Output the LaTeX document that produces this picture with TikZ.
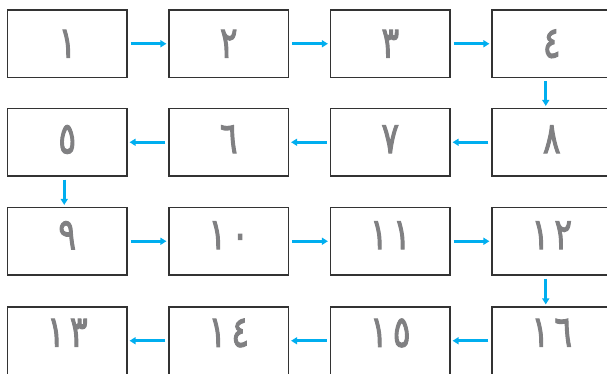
\documentclass[tikz,border=0pt]{standalone}
\usepackage{fontspec}
\newfontfamily\arabicfont[Script=Arabic, FakeStretch=0.75, FakeBold=2.2, LetterSpace=12]{DejaVu Sans}
\usetikzlibrary{arrows.meta}
\definecolor{flowblue}{RGB}{0,174,239}
\definecolor{numgray}{RGB}{128,128,130}
\tikzset{
  cell/.style={draw=black!80, line width=1.2pt, minimum width=119.5pt, minimum height=67.5pt,
    inner sep=0pt, text=numgray, font=\arabicfont\fontsize{44}{50}\selectfont},
  flow/.style={flowblue, line width=2.6pt, -{Triangle[length=6pt,width=7pt]},
    shorten <=3pt, shorten >=2pt}
}
\begin{document}
\begin{tikzpicture}[x=1pt,y=-1pt]
        \useasboundingbox (0,0) rectangle (607,373);
        % row 1
        \node[cell] (n1) at (67.25,43.75) {١};
        \node[cell] (n2) at (228.75,43.75) {٢};
        \node[cell] (n3) at (390.25,43.75) {٣};
        \node[cell] (n4) at (551.75,43.75) {٤};
        % row 2
        \node[cell, text depth=6pt] (n5) at (67.25,142.25) {٥};
        \node[cell, text depth=6pt] (n6) at (228.75,142.25) {٦};
        \node[cell, text depth=6pt] (n7) at (390.25,142.25) {٧};
        \node[cell, text depth=6pt] (n8) at (551.75,142.25) {٨};
        % row 3
        \node[cell, text depth=12pt] (n9) at (67.25,241.25) {٩};
        \node[cell, text depth=12pt] (n10) at (228.75,241.25) {١٠};
        \node[cell, text depth=12pt] (n11) at (390.25,241.25) {١١};
        \node[cell, text depth=12pt] (n12) at (551.75,241.25) {١٢};
        % row 4
        \node[cell, text depth=16pt] (n13) at (67.25,340.75) {١٣};
        \node[cell, text depth=16pt] (n14) at (228.75,340.75) {١٤};
        \node[cell, text depth=16pt] (n15) at (390.25,340.75) {١٥};
        \node[cell, text depth=16pt] (n16) at (551.75,340.75) {١٦};
        % arrows
        \draw[flow] (n1) -- (n2);
        \draw[flow] (n2) -- (n3);
        \draw[flow] (n3) -- (n4);
        \draw[flow] ([xshift=-6pt]n4.south) -- ([xshift=-6pt]n8.north);
        \draw[flow] (n8) -- (n7);
        \draw[flow] (n7) -- (n6);
        \draw[flow] (n6) -- (n5);
        \draw[flow] ([xshift=-3pt]n5.south) -- ([xshift=-3pt]n9.north);
        \draw[flow] (n9) -- (n10);
        \draw[flow] (n10) -- (n11);
        \draw[flow] (n11) -- (n12);
        \draw[flow] ([xshift=-6pt]n12.south) -- ([xshift=-6pt]n16.north);
        \draw[flow] (n16) -- (n15);
        \draw[flow] (n15) -- (n14);
        \draw[flow] (n14) -- (n13);
\end{tikzpicture}
\end{document}
